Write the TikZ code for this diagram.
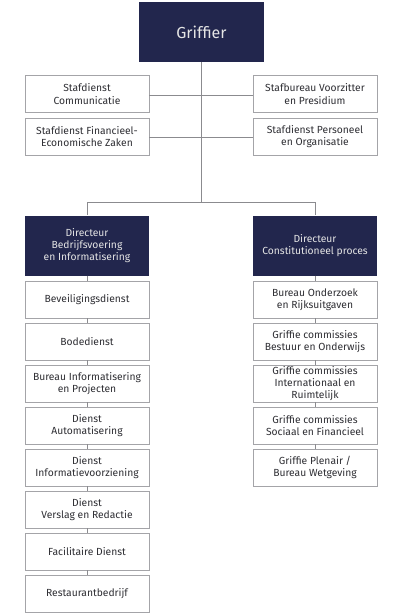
\documentclass[tikz,border=0pt]{standalone}
\usepackage{fontspec}
\setmainfont{Fira Sans}
\definecolor{navy}{HTML}{22264D}
\definecolor{boxline}{HTML}{A4A4A8}
\definecolor{txt}{HTML}{2E2E33}
\begin{document}
\begin{tikzpicture}[x=1pt,y=-1pt,
  wbox/.style={draw=boxline,line width=0.9pt,fill=white,minimum width=124pt,minimum height=37pt,inner sep=0pt,align=center,text=txt,font=\fontsize{10.3}{12.3}\selectfont},
  nbox/.style={fill=navy,minimum width=124pt,minimum height=60pt,inner sep=0pt,align=center,text=white!90!black,font=\fontsize{10.3}{12.3}\selectfont},
  conn/.style={draw=boxline!85!black,line width=0.9pt}]
\fill[white] (0,0) rectangle (400,613);
\useasboundingbox (0,0) rectangle (400,613);
% top
\node[nbox,minimum width=125pt,minimum height=60pt,font=\fontsize{16}{18}\selectfont] (griffier) at (201.5,32) {Griffier};
\coordinate (trunk) at (201.5,202);
\coordinate (bl) at (87.5,202);
\coordinate (br) at (315,202);
\draw[conn] (griffier.south) -- (trunk);
\draw[conn] (bl) -- (br);
% staff
\node[wbox] (sc) at (87,94) {Stafdienst\\Communicatie};
\node[wbox] (sf) at (87,136.5) {Stafdienst Financieel-\\Economische Zaken};
\node[wbox] (sv) at (315,94) {Stafbureau Voorzitter\\en Presidium};
\node[wbox] (sp) at (315,136.5) {Stafdienst Personeel\\en Organisatie};
\coordinate (h1) at (201.5,95);
\coordinate (h2) at (201.5,137);
\draw[conn] (sc.east |- h1) -- (sv.west |- h1);
\draw[conn] (sf.east |- h2) -- (sp.west |- h2);
% directors
\node[nbox] (dbi) at (87,245.5) {Directeur\\Bedrijfsvoering\\en Informatisering};
\node[nbox] (dcp) at (315,245.5) {Directeur\\Constitutioneel proces};
\draw[conn] (bl) -- (dbi.north -| bl);
\draw[conn] (br) -- (dcp.north -| br);
% left column
\node[wbox] (l1) at (87,299.5) {Beveiligingsdienst};
\node[wbox] (l2) at (87,341.5) {Bodedienst};
\node[wbox] (l3) at (87,383.5) {Bureau Informatisering\\en Projecten};
\node[wbox] (l4) at (87,425.5) {Dienst\\Automatisering};
\node[wbox] (l5) at (87,467.5) {Dienst\\Informatievoorziening};
\node[wbox] (l6) at (87,509.5) {Dienst\\Verslag en Redactie};
\node[wbox] (l7) at (87,551.5) {Facilitaire Dienst};
\node[wbox] (l8) at (87,593.5) {Restaurantbedrijf};
\foreach \a/\b in {dbi/l1,l1/l2,l2/l3,l3/l4,l4/l5,l5/l6,l6/l7,l7/l8}
  \draw[conn] (\a.south) -- (\b.north);
% right column
\node[wbox] (r1) at (315,299.5) {Bureau Onderzoek\\en Rijksuitgaven};
\node[wbox] (r2) at (315,341.5) {Griffie commissies\\Bestuur en Onderwijs};
\node[wbox] (r3) at (315,383.5) {Griffie commissies\\Internationaal en\\Ruimtelijk};
\node[wbox] (r4) at (315,425.5) {Griffie commissies\\Sociaal en Financieel};
\node[wbox] (r5) at (315,467.5) {Griffie Plenair /\\Bureau Wetgeving};
\foreach \a/\b in {dcp/r1,r1/r2,r2/r3,r3/r4,r4/r5}
  \draw[conn] (\a.south) -- (\b.north);
\end{tikzpicture}
\end{document}
